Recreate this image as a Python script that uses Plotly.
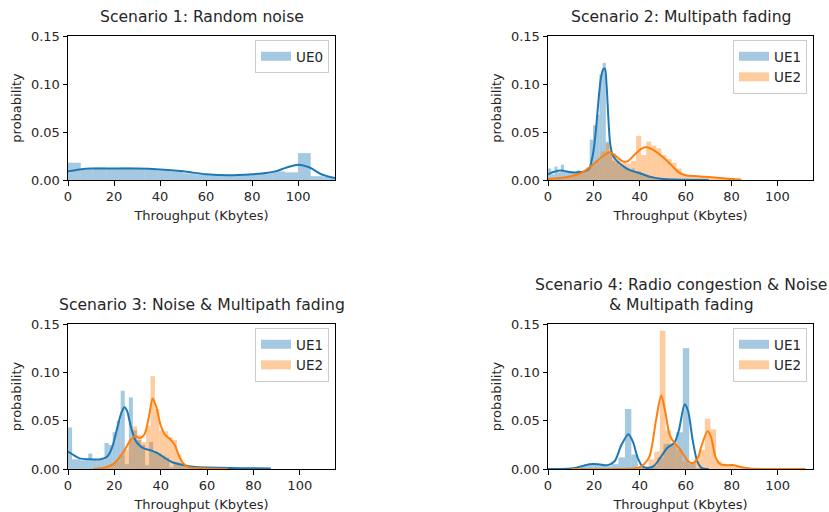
import plotly.graph_objects as go
import numpy as np

# ---------------- data ----------------
titles = ["Scenario 1: Random noise",
          "Scenario 2: Multipath fading",
          "Scenario 3: Noise & Multipath fading",
          "Scenario 4: Radio congestion & Noise<br>& Multipath fading"]
x_label = "Throughput (Kbytes)"
y_label = "probability"
x_ticks = [0, 20, 40, 60, 80, 100]
y_ticks = [0.00, 0.05, 0.10, 0.15]

# Scenario 1 - UE0 histogram (bin start, bin width, heights)
s1_ue0_bin_start, s1_ue0_bin_width = 0.0, 5.55
s1_ue0_hist = [0.018, 0.011, 0.013, 0.012, 0.013, 0.012, 0.011, 0.010, 0.009, 0.007,
               0.006, 0.005, 0.005, 0.005, 0.006, 0.007, 0.009, 0.008, 0.028, 0.004, 0.003]
s1_ue0_kde_x = [0, 5, 10, 20, 30, 40, 50, 60, 70, 80, 85, 90, 95, 100, 105, 110, 116]
s1_ue0_kde_y = [0.009, 0.011, 0.012, 0.012, 0.012, 0.011, 0.009, 0.006, 0.005, 0.006,
                0.007, 0.009, 0.013, 0.016, 0.013, 0.006, 0.002]

# Scenario 2 - UE1
s2_ue1_bin_start, s2_ue1_bin_width = 0.0, 1.4
s2_ue1_hist = [0.012, 0.006, 0.014, 0.008, 0.016, 0.009, 0.008, 0.009, 0.007, 0.010,
               0.008, 0.010, 0.013, 0.042, 0.057, 0.068, 0.110, 0.122, 0.040, 0.030,
               0.020, 0.018, 0.015, 0.013, 0.012, 0.010, 0.012, 0.008, 0.009, 0.006,
               0.005, 0.004, 0.004, 0.003, 0.002, 0.002, 0.002, 0.001, 0.001, 0.001,
               0.001, 0.001, 0.0005, 0.0005, 0.0005, 0.0005, 0.0005, 0.0005, 0.0005, 0.0005]
s2_ue1_kde_x = [0, 2, 5, 7, 10, 13, 16, 18, 19, 20, 21, 22, 23, 24, 24.8, 25.5, 26.3,
                27, 28, 30, 33, 36, 40, 45, 50, 55, 60, 70]
s2_ue1_kde_y = [0.006, 0.008, 0.010, 0.0095, 0.008, 0.008, 0.009, 0.012, 0.020, 0.033,
                0.055, 0.083, 0.105, 0.115, 0.116, 0.100, 0.065, 0.040, 0.027, 0.020,
                0.014, 0.010, 0.007, 0.003, 0.001, 0.0005, 0.0002, 0.0]
# Scenario 2 - UE2
s2_ue2_bin_start, s2_ue2_bin_width = 1.0, 2.2
s2_ue2_hist = [0.002, 0.002, 0.003, 0.004, 0.005, 0.007, 0.009, 0.012, 0.016, 0.020,
               0.030, 0.038, 0.028, 0.022, 0.018, 0.017, 0.020, 0.046, 0.026, 0.040,
               0.036, 0.033, 0.026, 0.022, 0.018, 0.012, 0.006, 0.005, 0.004, 0.004,
               0.003, 0.003, 0.002, 0.002, 0.001, 0.001, 0.001, 0.001]
s2_ue2_kde_x = [0, 5, 10, 15, 20, 24, 27, 30, 33, 35, 38, 41, 43, 46, 50, 54, 57, 60,
                65, 70, 75, 80, 84]
s2_ue2_kde_y = [0.001, 0.002, 0.004, 0.008, 0.017, 0.025, 0.029, 0.024, 0.019, 0.020,
                0.027, 0.033, 0.034, 0.031, 0.024, 0.015, 0.008, 0.005, 0.004, 0.003,
                0.002, 0.001, 0.0005]

# Scenario 3 - UE1
s3_ue1_bin_start, s3_ue1_bin_width = 0.0, 1.75
s3_ue1_hist = [0.043, 0.010, 0.010, 0.009, 0.010, 0.016, 0.010, 0.009, 0.010, 0.027,
               0.025, 0.038, 0.050, 0.081, 0.005, 0.074, 0.040, 0.030, 0.025, 0.004,
               0.028, 0.018, 0.016, 0.014, 0.012, 0.002, 0.007, 0.005, 0.004, 0.003,
               0.002, 0.001, 0.001, 0.001, 0.001, 0.001, 0.001, 0.001, 0.001, 0.001,
               0.0005, 0.0005, 0.0005, 0.0005, 0.0005, 0.0005, 0.0005, 0.0005, 0.0005, 0.0005]
s3_ue1_kde_x = [0, 2, 5, 10, 14, 17, 19, 21, 23, 24.3, 25.5, 27, 29, 31, 33, 36, 39,
                42, 45, 50, 55, 60, 70, 80, 87.5]
s3_ue1_kde_y = [0.018, 0.015, 0.011, 0.010, 0.010, 0.013, 0.022, 0.040, 0.058, 0.064,
                0.060, 0.045, 0.030, 0.024, 0.021, 0.019, 0.016, 0.011, 0.007, 0.004,
                0.002, 0.0015, 0.001, 0.0008, 0.0005]
# Scenario 3 - UE2
s3_ue2_bin_start, s3_ue2_bin_width = 10.9, 1.9
s3_ue2_hist = [0.001, 0.001, 0.002, 0.003, 0.005, 0.008, 0.014, 0.020, 0.030, 0.044,
               0.035, 0.028, 0.045, 0.096, 0.062, 0.040, 0.039, 0.033, 0.030, 0.015,
               0.006, 0.003, 0.002, 0.001, 0.0005, 0.0005, 0.0005, 0.0005, 0.0005, 0.0005,
               0.0005]
s3_ue2_kde_x = [11, 15, 20, 24, 27, 29, 31, 33, 35, 36.5, 38, 40, 42, 44, 46, 48, 50,
                52, 55, 60, 69]
s3_ue2_kde_y = [0.0, 0.001, 0.006, 0.018, 0.030, 0.034, 0.032, 0.036, 0.055, 0.073,
                0.065, 0.045, 0.035, 0.031, 0.025, 0.013, 0.005, 0.002, 0.001, 0.0005, 0.0]

# Scenario 4 - UE1
s4_ue1_bin_start, s4_ue1_bin_width = 13.9, 2.8
s4_ue1_hist = [0.004, 0.005, 0.005, 0.004, 0.003, 0.005, 0.012, 0.062, 0.015, 0.002,
               0.0, 0.003, 0.012, 0.026, 0.025, 0.038, 0.125, 0.006, 0.001]
s4_ue1_kde_x = [0, 10, 15, 18, 22, 26, 29, 32, 35, 37, 39, 41, 43, 46, 49, 52, 55, 57,
                59.5, 61, 63, 65, 67, 70]
s4_ue1_kde_y = [0.0, 0.0005, 0.003, 0.005, 0.005, 0.004, 0.008, 0.025, 0.036, 0.028,
                0.012, 0.003, 0.001, 0.003, 0.012, 0.022, 0.027, 0.040, 0.067, 0.060,
                0.030, 0.008, 0.001, 0.0]
# Scenario 4 - UE2
s4_ue2_bin_start, s4_ue2_bin_width = 9.5, 2.45
s4_ue2_hist = [0.0005, 0.0005, 0.0005, 0.0005, 0.0005, 0.0005, 0.0005, 0.0005, 0.0005,
               0.0005, 0.0005, 0.0005, 0.001, 0.003, 0.010, 0.018, 0.143, 0.040, 0.027,
               0.020, 0.008, 0.005, 0.010, 0.020, 0.052, 0.041, 0.008, 0.004, 0.004,
               0.004, 0.002, 0.0005, 0.0005, 0.0005, 0.0005, 0.0005, 0.0005, 0.0005,
               0.0005, 0.0005, 0.0005, 0.0005]
s4_ue2_kde_x = [10, 30, 40, 44, 47, 49.3, 51, 53, 55, 57, 59, 61, 63, 65, 67, 69.5, 71,
                73, 75, 78, 81, 84, 88, 100, 112]
s4_ue2_kde_y = [0.0, 0.0, 0.002, 0.012, 0.050, 0.076, 0.060, 0.035, 0.027, 0.022, 0.015,
                0.008, 0.006, 0.010, 0.025, 0.039, 0.033, 0.012, 0.005, 0.004, 0.004,
                0.002, 0.0005, 0.0, 0.0]

x_max = [116, 115.5, 115.2, 115.4]

# ---------------- styling ----------------
BLUE = "#1f77b4"
ORANGE = "#ff7f0e"
BLUE_A = "rgba(31,119,180,0.4)"
ORANGE_A = "rgba(255,127,14,0.4)"
FONT = "DejaVu Sans"
TXT = "#262626"
W, H = 829, 512

# pixel boxes of the four axes: (left, right, top, bottom)
boxes = [(68, 335, 36, 180), (548, 813, 36, 180), (68, 335, 324, 469), (548, 813, 324, 469)]

panels = [
    [("UE0", s1_ue0_bin_start, s1_ue0_bin_width, s1_ue0_hist, s1_ue0_kde_x, s1_ue0_kde_y, BLUE, BLUE_A)],
    [("UE1", s2_ue1_bin_start, s2_ue1_bin_width, s2_ue1_hist, s2_ue1_kde_x, s2_ue1_kde_y, BLUE, BLUE_A),
     ("UE2", s2_ue2_bin_start, s2_ue2_bin_width, s2_ue2_hist, s2_ue2_kde_x, s2_ue2_kde_y, ORANGE, ORANGE_A)],
    [("UE1", s3_ue1_bin_start, s3_ue1_bin_width, s3_ue1_hist, s3_ue1_kde_x, s3_ue1_kde_y, BLUE, BLUE_A),
     ("UE2", s3_ue2_bin_start, s3_ue2_bin_width, s3_ue2_hist, s3_ue2_kde_x, s3_ue2_kde_y, ORANGE, ORANGE_A)],
    [("UE1", s4_ue1_bin_start, s4_ue1_bin_width, s4_ue1_hist, s4_ue1_kde_x, s4_ue1_kde_y, BLUE, BLUE_A),
     ("UE2", s4_ue2_bin_start, s4_ue2_bin_width, s4_ue2_hist, s4_ue2_kde_x, s4_ue2_kde_y, ORANGE, ORANGE_A)],
]

fig = go.Figure()
layout = dict(width=W, height=H, margin=dict(l=0, r=0, t=0, b=0, autoexpand=False),
              paper_bgcolor="white", plot_bgcolor="white", barmode="overlay",
              font=dict(family=FONT, size=13, color=TXT), annotations=[])

for i, (series, box) in enumerate(zip(panels, boxes)):
    n = "" if i == 0 else str(i + 1)
    xa, ya = "x" + n, "y" + n
    leg = "legend" + n
    l, r, t, b = box
    # histograms first
    for name, start, width, heights, kx, ky, col, cola in series:
        hv = np.array(heights, dtype=float)
        edges = start + width * np.arange(len(hv) + 1)
        centers = (edges[:-1] + edges[1:]) / 2
        fig.add_trace(go.Bar(x=centers, y=hv, width=np.diff(edges), marker=dict(color=cola, line=dict(width=0)),
                             xaxis=xa, yaxis=ya, showlegend=False, hoverinfo="skip"))
    for name, start, width, heights, kx, ky, col, cola in series:
        fig.add_trace(go.Scatter(x=kx, y=ky, mode="lines", line=dict(color=col, width=2, shape="spline", smoothing=0.8),
                                 xaxis=xa, yaxis=ya, showlegend=False, hoverinfo="skip"))
    for name, start, width, heights, kx, ky, col, cola in series:
        fig.add_trace(go.Scatter(x=[None], y=[None], mode="lines", name=name,
                                 line=dict(color=cola, width=9), xaxis=xa, yaxis=ya,
                                 legend=leg, showlegend=True))
    common = dict(showline=True, mirror=True, linecolor="black", linewidth=1, ticks="outside",
                  ticklen=4.5, tickwidth=1, tickcolor="black", showgrid=False, zeroline=False,
                  automargin=False, tickfont=dict(family=FONT, size=13, color=TXT))
    layout["xaxis" + n] = dict(common, domain=[l / W, r / W], range=[0, x_max[i]], tickvals=x_ticks,
                               anchor=ya, title=dict(text=x_label, standoff=7,
                                                     font=dict(family=FONT, size=13, color=TXT)))
    layout["yaxis" + n] = dict(common, domain=[1 - b / H, 1 - t / H], range=[0, 0.15], tickvals=y_ticks,
                               tickformat=".2f", anchor=xa,
                               title=dict(text=y_label, standoff=6, font=dict(family=FONT, size=13, color=TXT)))
    layout[leg] = dict(x=(r - 6) / W, y=1 - (t + 4) / H, xanchor="right", yanchor="top",
                       bgcolor="rgba(255,255,255,0.8)", bordercolor="#cccccc", borderwidth=1,
                       font=dict(family=FONT, size=13.5, color=TXT), itemwidth=30, tracegroupgap=0)
    layout["annotations"].append(dict(text=titles[i], x=(l + r) / 2 / W, y=1 - (t - 8) / H, xref="paper",
                                      yref="paper", xanchor="center", yanchor="bottom", showarrow=False,
                                      font=dict(family=FONT, size=15.6, color=TXT)))

fig.update_layout(**layout)
fig.write_html("out.html")
